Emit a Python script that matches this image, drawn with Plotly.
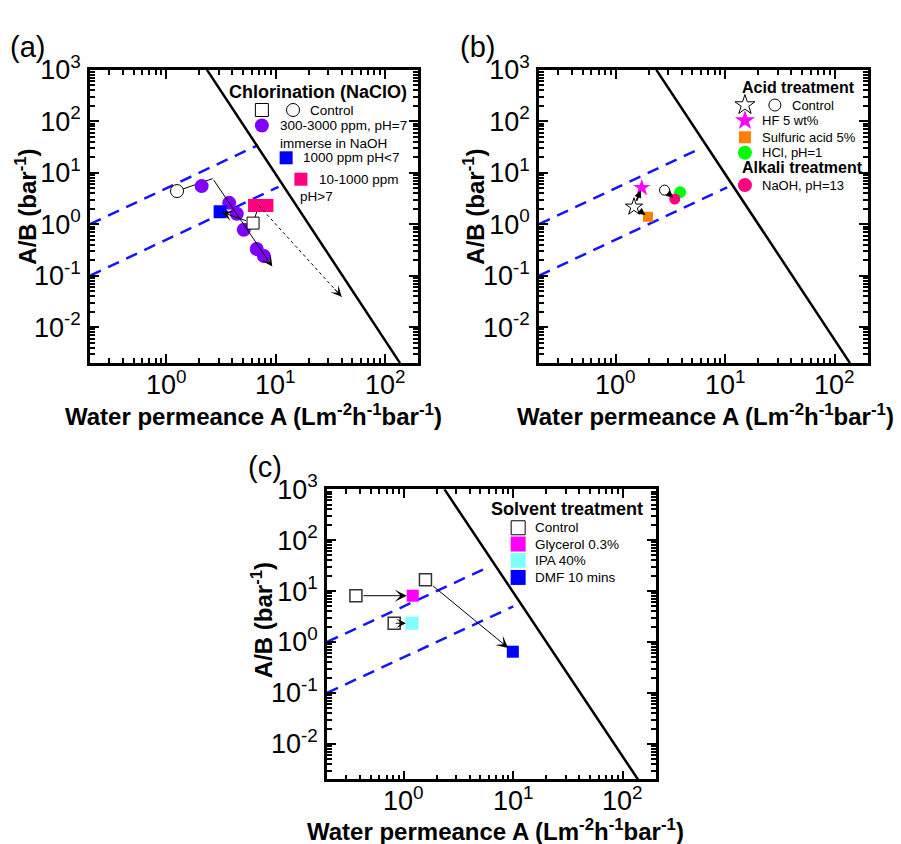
import numpy as np
import plotly.graph_objects as go

FONT = "Liberation Sans, Arial, sans-serif"

# ---------------- data ----------------
bound_A = [2.35, 137.0]
bound_AB = [1000.0, 0.002]
upper_dash_A = {"a": [0.2, 6.9], "b": [0.2, 5.8], "c": [0.2, 5.7]}
upper_dash_AB = {"a": [1.0, 34.5], "b": [1.0, 29.0], "c": [1.0, 28.5]}
lower_dash_A = {"a": [0.2, 10.6], "b": [0.2, 10.4], "c": [0.2, 10.0]}
lower_dash_AB = {"a": [0.1, 5.3], "b": [0.1, 5.2], "c": [0.1, 5.0]}

a_ctrl_circ_A, a_ctrl_circ_AB = [1.25], [4.4]
a_ctrl_sq_A, a_ctrl_sq_AB = [6.2], [1.05]
a_naclo_A = [2.1, 3.75, 4.4, 5.1, 6.7, 7.8]
a_naclo_AB = [5.5, 2.6, 1.6, 0.78, 0.33, 0.24]
a_acid_A, a_acid_AB = [3.1], [1.75]
a_alk_A, a_alk_AB = [6.4, 8.3], [2.3, 2.3]
a_bend = (2.65, 7.7)
a_arrow_end = (9.3, 0.15)
a_kink = (7.0, 2.3)
a_dot_end = (40.0, 0.039)

b_ctrl_star_A, b_ctrl_star_AB = [1.47], [2.17]
b_ctrl_circ_A, b_ctrl_circ_AB = [2.79], [4.6]
b_hf_A, b_hf_AB = [1.73], [5.1]
b_sulf_A, b_sulf_AB = [1.97], [1.4]
b_hcl_A, b_hcl_AB = [3.87], [4.2]
b_naoh_A, b_naoh_AB = [3.46], [3.08]

c_ctrl_A = [0.367, 0.82, 1.58]
c_ctrl_AB = [8.1, 2.34, 16.7]
c_gly_A, c_gly_AB = [1.21], [8.1]
c_ipa_A, c_ipa_AB = [1.19], [2.34]
c_dmf_A, c_dmf_AB = [9.9], [0.645]

x_tick_vals = [1, 10, 100]
x_tick_text = ["10<sup>0</sup>", "10<sup>1</sup>", "10<sup>2</sup>"]
y_tick_vals = [0.01, 0.1, 1, 10, 100, 1000]
y_tick_text = ["10<sup>-2</sup>", "10<sup>-1</sup>", "10<sup>0</sup>",
               "10<sup>1</sup>", "10<sup>2</sup>", "10<sup>3</sup>"]
X_RANGE = [0.2, 200]
Y_RANGE = [0.002, 1000]

# ---------------- figure ----------------
fig = go.Figure()

XR = [np.log10(X_RANGE[0]), np.log10(X_RANGE[1])]
YR = [np.log10(Y_RANGE[0]), np.log10(Y_RANGE[1])]

x_minor = [k * 10.0 ** e for e in range(-1, 3) for k in range(2, 10)
           if X_RANGE[0] <= k * 10.0 ** e <= X_RANGE[1]]
y_minor = [k * 10.0 ** e for e in range(-3, 3) for k in range(2, 10)
           if Y_RANGE[0] <= k * 10.0 ** e <= Y_RANGE[1]]

W, H = 901, 844
TICK_FONT = 27
panels = {
    "a": dict(xa="x", ya="y", px=(90, 418), py=(52, 352)),
    "b": dict(xa="x2", ya="y2", px=(539, 868), py=(52, 352)),
    "c": dict(xa="x3", ya="y3", px=(327, 656), py=(481, 778)),
}


def axis(domain, is_x, anchor):
    return dict(
        type="log", domain=domain, anchor=anchor,
        range=XR if is_x else YR,
        tickmode="array",
        tickvals=x_tick_vals if is_x else y_tick_vals,
        ticktext=x_tick_text if is_x else y_tick_text,
        showticklabels=not is_x,
        ticks="inside", ticklen=9, tickwidth=2, tickcolor="black",
        showline=True, linewidth=2.5, linecolor="black", mirror="allticks",
        showgrid=False, zeroline=False,
        ticklabelstandoff=1,
        tickfont=dict(family=FONT, size=TICK_FONT, color="black"),
        minor=dict(tickvals=x_minor if is_x else y_minor, ticks="inside",
                   ticklen=5, tickwidth=1.5, tickcolor="black", showgrid=False),
    )


layout_axes = {}
for i, (k, p) in enumerate(panels.items()):
    sfx = "" if i == 0 else str(i + 1)
    xd = [p["px"][0] / W, p["px"][1] / W]
    yd = [1 - p["py"][1] / H, 1 - p["py"][0] / H]
    layout_axes["xaxis" + sfx] = axis(xd, True, "y" + sfx)
    layout_axes["yaxis" + sfx] = axis(yd, False, "x" + sfx)

# x tick labels just under each x axis
for k, p in panels.items():
    ph = p["py"][1] - p["py"][0]
    for v, t in zip(x_tick_vals, x_tick_text):
        fig.add_annotation(x=np.log10(v), y=-1.0 / ph, xref=p["xa"], yref=p["ya"] + " domain",
                           text=t, showarrow=False, xanchor="center", yanchor="top",
                           font=dict(family=FONT, size=TICK_FONT, color="black"))


def add_line(p, xs, ys, color="black", width=2.5, dash="solid"):
    fig.add_trace(go.Scatter(x=xs, y=ys, mode="lines", xaxis=p["xa"], yaxis=p["ya"],
                             line=dict(color=color, width=width, dash=dash),
                             showlegend=False, hoverinfo="skip"))


def add_pts(p, xs, ys, symbol, color, size, line_color=None, line_width=0, clip=True):
    fig.add_trace(go.Scatter(
        x=xs, y=ys, mode="markers", xaxis=p["xa"], yaxis=p["ya"],
        marker=dict(symbol=symbol, color=color, size=size,
                    line=dict(color=line_color or color, width=line_width)),
        showlegend=False, hoverinfo="skip", cliponaxis=clip))


def add_arrow(p, start, end, width=1, head=3, size=1.8, standoff=0, startstandoff=0):
    fig.add_annotation(
        x=np.log10(end[0]), y=np.log10(end[1]),
        ax=np.log10(start[0]), ay=np.log10(start[1]),
        xref=p["xa"], yref=p["ya"], axref=p["xa"], ayref=p["ya"],
        showarrow=True, arrowhead=head, arrowsize=size, arrowwidth=width,
        arrowcolor="black", standoff=standoff, startstandoff=startstandoff, text="")


def frac_to_data(fx, fy):
    return (10 ** (XR[0] + fx * (XR[1] - XR[0])), 10 ** (YR[0] + fy * (YR[1] - YR[0])))


def leg_marker(p, fx, fy, symbol, color, size, line_color=None, line_width=0):
    x, y = frac_to_data(fx, fy)
    add_pts(p, [x], [y], symbol, color, size, line_color, line_width, clip=False)


def leg_text(p, fx, fy, text, size=13.5, anchor="left"):
    fig.add_annotation(x=fx, y=fy, xref=p["xa"] + " domain", yref=p["ya"] + " domain",
                       text=text, showarrow=False, xanchor=anchor, yanchor="middle",
                       font=dict(family=FONT, size=size, color="black"))


for k, p in panels.items():
    add_line(p, upper_dash_A[k], upper_dash_AB[k], color="rgb(20,20,255)", width=2.5, dash="12px,8px")
    add_line(p, lower_dash_A[k], lower_dash_AB[k], color="rgb(20,20,255)", width=2.5, dash="12px,8px")
    add_line(p, bound_A, bound_AB, color="black", width=2.5)

# ---- panel (a) ----
pa = panels["a"]
add_line(pa, [a_ctrl_circ_A[0], a_bend[0]], [a_ctrl_circ_AB[0], a_bend[1]], width=1)
add_line(pa, [a_ctrl_sq_A[0], a_kink[0]], [a_ctrl_sq_AB[0], a_kink[1]], width=1)
add_pts(pa, a_naclo_A, a_naclo_AB, "circle", "#8000FF", 14)
add_pts(pa, a_alk_A, a_alk_AB, "square", "#FF0080", 13)
add_pts(pa, a_acid_A, a_acid_AB, "square", "#0000FF", 13)
add_pts(pa, a_ctrl_circ_A, a_ctrl_circ_AB, "circle", "white", 13, "black", 1)
add_pts(pa, a_ctrl_sq_A, a_ctrl_sq_AB, "square", "white", 12, "black", 1)
add_line(pa, [a_kink[0], a_dot_end[0]], [a_kink[1], a_dot_end[1]], width=1, dash="3px,3px")
add_arrow(pa, a_bend, a_arrow_end, width=1, head=3, size=1.8)
add_arrow(pa, (a_ctrl_sq_A[0], a_ctrl_sq_AB[0]), (a_acid_A[0], a_acid_AB[0]), width=1, head=3,
          size=1.8, standoff=2, startstandoff=6)
lx0, ly0 = np.log10(a_kink)
lx1, ly1 = np.log10(a_dot_end)
fig.add_annotation(x=lx1, y=ly1, ax=lx1 - 0.1 * (lx1 - lx0), ay=ly1 - 0.1 * (ly1 - ly0),
                   xref="x", yref="y", axref="x", ayref="y", showarrow=True, arrowhead=3,
                   arrowsize=1.8, arrowwidth=1, arrowcolor="black", text="")

leg_text(pa, 0.695, 0.923, "<b>Chlorination (NaClO)</b>", size=18, anchor="center")
leg_marker(pa, 0.524, 0.863, "square", "white", 13, "black", 1)
leg_marker(pa, 0.619, 0.863, "circle", "white", 13, "black", 1)
leg_text(pa, 0.665, 0.863, "Control")
leg_marker(pa, 0.524, 0.810, "circle", "#8000FF", 14)
leg_text(pa, 0.573, 0.810, "300-3000 ppm, pH=7")
leg_text(pa, 0.573, 0.750, "immerse in NaOH")
leg_marker(pa, 0.598, 0.700, "square", "#0000FF", 13)
leg_text(pa, 0.643, 0.700, "1000 ppm pH<7")
leg_marker(pa, 0.643, 0.627, "square", "#FF0080", 13)
leg_text(pa, 0.692, 0.627, "10-1000 ppm")
leg_text(pa, 0.634, 0.567, "pH>7")

# ---- panel (b) ----
pb = panels["b"]
add_pts(pb, b_sulf_A, b_sulf_AB, "square", "#FF8000", 10)
add_pts(pb, b_hcl_A, b_hcl_AB, "circle", "#00FF00", 12)
add_pts(pb, b_naoh_A, b_naoh_AB, "circle", "#FF0080", 11)
add_pts(pb, b_hf_A, b_hf_AB, "star", "#FF00FF", 13)
add_pts(pb, b_ctrl_star_A, b_ctrl_star_AB, "star", "white", 13, "black", 1)
add_pts(pb, b_ctrl_circ_A, b_ctrl_circ_AB, "circle", "white", 10, "black", 1)
add_arrow(pb, (b_ctrl_star_A[0], b_ctrl_star_AB[0]), (b_hf_A[0], b_hf_AB[0]), width=1.8,
          head=2, size=0.8, standoff=3, startstandoff=5)
add_arrow(pb, (b_ctrl_star_A[0], b_ctrl_star_AB[0]), (b_sulf_A[0], b_sulf_AB[0]), width=1.8,
          head=2, size=0.8, standoff=3, startstandoff=5)
add_arrow(pb, (b_ctrl_circ_A[0], b_ctrl_circ_AB[0]), (b_naoh_A[0], b_naoh_AB[0]), width=1.8,
          head=2, size=0.8, standoff=2, startstandoff=3)

leg_text(pb, 0.611, 0.940, "<b>Acid treatment</b>", size=16)
leg_marker(pb, 0.626, 0.880, "star", "white", 15, "black", 1)
leg_marker(pb, 0.717, 0.880, "circle", "white", 12, "black", 1)
leg_text(pb, 0.763, 0.880, "Control", size=13)
leg_marker(pb, 0.626, 0.827, "star", "#FF00FF", 15)
leg_text(pb, 0.672, 0.827, "HF 5 wt%", size=13)
leg_marker(pb, 0.626, 0.770, "square", "#FF8000", 12)
leg_text(pb, 0.672, 0.770, "Sulfuric acid 5%", size=13)
leg_marker(pb, 0.626, 0.717, "circle", "#00FF00", 14)
leg_text(pb, 0.672, 0.717, "HCl, pH=1", size=13)
leg_text(pb, 0.611, 0.667, "<b>Alkali treatment</b>", size=16)
leg_marker(pb, 0.626, 0.607, "circle", "#FF0080", 14)
leg_text(pb, 0.672, 0.607, "NaOH, pH=13", size=13)

# ---- panel (c) ----
pc = panels["c"]
add_pts(pc, c_gly_A, c_gly_AB, "square", "#FF00FF", 12)
add_pts(pc, c_ipa_A, c_ipa_AB, "square", "#80FFFF", 13)
add_pts(pc, c_dmf_A, c_dmf_AB, "square", "#0000FF", 12)
add_pts(pc, c_ctrl_A, c_ctrl_AB, "square", "white", 12, "#333333", 1.5)
add_arrow(pc, (c_ctrl_A[0], c_ctrl_AB[0]), (c_gly_A[0], c_gly_AB[0]), width=1, head=3, size=2,
          standoff=6, startstandoff=6)
add_arrow(pc, (c_ctrl_A[1], c_ctrl_AB[1]), (c_ipa_A[0], c_ipa_AB[0]), width=1, head=3, size=1.6,
          standoff=6, startstandoff=0)
add_arrow(pc, (c_ctrl_A[2], c_ctrl_AB[2]), (c_dmf_A[0], c_dmf_AB[0]), width=1, head=3, size=2,
          standoff=6, startstandoff=8)

leg_text(pc, 0.492, 0.931, "<b>Solvent treatment</b>", size=18)
leg_marker(pc, 0.581, 0.867, "square", "white", 14, "black", 1)
leg_text(pc, 0.626, 0.867, "Control")
leg_marker(pc, 0.581, 0.811, "square", "#FF00FF", 15)
leg_text(pc, 0.626, 0.811, "Glycerol 0.3%")
leg_marker(pc, 0.581, 0.755, "square", "#80FFFF", 15)
leg_text(pc, 0.626, 0.755, "IPA 40%")
leg_marker(pc, 0.581, 0.696, "square", "#0000FF", 15)
leg_text(pc, 0.626, 0.696, "DMF 10 mins")

# ---- titles / panel labels ----
xt = "<b>Water permeance A (Lm<sup>-2</sup>h<sup>-1</sup>bar<sup>-1</sup>)</b>"
yt = "<b>A/B (bar<sup>-1</sup>)</b>"
for (cx, cy) in [(254, 405), (705, 405), (495, 830)]:
    fig.add_annotation(x=cx / W, y=1 - cy / H, xref="paper", yref="paper", text=xt,
                       showarrow=False, xanchor="center", yanchor="middle",
                       font=dict(family=FONT, size=24, color="black"))
for (cx, cy) in [(26, 192), (474, 192), (262, 615)]:
    fig.add_annotation(x=cx / W, y=1 - cy / H, xref="paper", yref="paper", text=yt,
                       showarrow=False, xanchor="center", yanchor="middle", textangle=-90,
                       font=dict(family=FONT, size=24, color="black"))
for (cx, cy, lab) in [(27, 29, "(a)"), (477, 29, "(b)"), (265, 458, "(c)")]:
    fig.add_annotation(x=cx / W, y=1 - cy / H, xref="paper", yref="paper", text=lab,
                       showarrow=False, xanchor="center", yanchor="middle", borderpad=0,
                       font=dict(family=FONT, size=29, color="black"))

fig.update_layout(
    width=W, height=H, margin=dict(l=0, r=0, t=0, b=0),
    paper_bgcolor="white", plot_bgcolor="white", showlegend=False,
    font=dict(family=FONT, color="black"),
    **layout_axes,
)

fig.write_html("out.html")
